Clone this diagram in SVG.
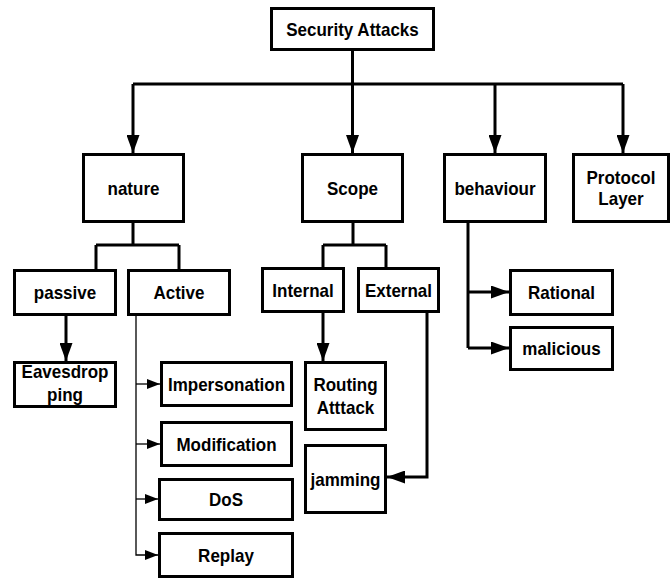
<svg xmlns="http://www.w3.org/2000/svg" width="671" height="578" viewBox="0 0 671 578">
<style>
.box{fill:#fff;stroke:#000;stroke-width:3}
.t{font-family:"Liberation Sans",Arial,sans-serif;font-weight:bold;font-size:17px;text-anchor:middle;fill:#000;transform-box:fill-box;transform-origin:center;transform:scaleY(1.1)}
.c{fill:none;stroke:#000;stroke-width:3}
.thin{fill:none;stroke:#000;stroke-width:1.3}
</style>
<defs>
<marker id="big" markerUnits="userSpaceOnUse" markerWidth="19" markerHeight="13" refX="18" refY="6.5" orient="auto">
<path d="M0,0 L18,6.5 L0,13 Z" fill="#000"/>
</marker>
<marker id="small" markerUnits="userSpaceOnUse" markerWidth="14" markerHeight="10" refX="13" refY="5" orient="auto">
<path d="M0,0 L13,5 L0,10 Z" fill="#000"/>
</marker>
</defs>
<g id="connectors">
<path class="c" d="M352.5,51 V84 M133,84 H623"/>
<path class="c" d="M133,84 V153" marker-end="url(#big)"/>
<path class="c" d="M352.5,84 V153" marker-end="url(#big)"/>
<path class="c" d="M495,84 V153" marker-end="url(#big)"/>
<path class="c" d="M623,84 V153" marker-end="url(#big)"/>
<path class="c" d="M133,223 V245 M96,245 H179 M96,245 V269 M179,245 V269"/>
<path class="c" d="M353,223 V245 M323,245 H386 M323,245 V267 M386,245 V267"/>
<path class="c" d="M66,316 V361" marker-end="url(#big)"/>
<path class="c" d="M323,313 V361" marker-end="url(#big)"/>
<path class="c" d="M427,313 V477 H387" marker-end="url(#big)"/>
<path class="c" d="M468,223 V348"/>
<path class="c" d="M468,292 H509" marker-end="url(#big)"/>
<path class="c" d="M468,348 H509" marker-end="url(#big)"/>
<path class="thin" d="M136,316 V555 H158" marker-end="url(#small)"/>
<path class="thin" d="M136,384 H160" marker-end="url(#small)"/>
<path class="thin" d="M136,444 H160" marker-end="url(#small)"/>
<path class="thin" d="M136,499 H158" marker-end="url(#small)"/>
</g>
<g id="security-attacks"><rect class="box" x="271.5" y="8.5" width="162" height="41"/><text class="t" x="352.5" y="35">Security Attacks</text></g>
<g id="nature"><rect class="box" x="83.5" y="154.5" width="100" height="67"/><text class="t" x="133.5" y="194">nature</text></g>
<g id="scope"><rect class="box" x="302.5" y="154.5" width="100" height="67"/><text class="t" x="352.5" y="194">Scope</text></g>
<g id="behaviour"><rect class="box" x="444.5" y="154.5" width="101" height="67"/><text class="t" x="495" y="194">behaviour</text></g>
<g id="protocol-layer"><rect class="box" x="573.5" y="154.5" width="95" height="67"/><text class="t" x="621" y="183">Protocol</text><text class="t" x="621" y="204">Layer</text></g>
<g id="passive"><rect class="box" x="14.5" y="270.5" width="101" height="44"/><text class="t" x="65" y="298">passive</text></g>
<g id="active"><rect class="box" x="128.5" y="270.5" width="101" height="44"/><text class="t" x="179" y="298">Active</text></g>
<g id="internal"><rect class="box" x="262.5" y="268.5" width="81" height="43"/><text class="t" x="303" y="296">Internal</text></g>
<g id="external"><rect class="box" x="358.5" y="268.5" width="80" height="43"/><text class="t" x="398.5" y="296">External</text></g>
<g id="rational"><rect class="box" x="510.5" y="270.5" width="102" height="44"/><text class="t" x="561.5" y="298">Rational</text></g>
<g id="malicious"><rect class="box" x="510.5" y="327.5" width="102" height="42"/><text class="t" x="561.5" y="354">malicious</text></g>
<g id="eavesdropping"><rect class="box" x="14.5" y="362.5" width="101" height="44"/><text class="t" x="65" y="377">Eavesdrop</text><text class="t" x="65" y="400">ping</text></g>
<g id="impersonation"><rect class="box" x="161.5" y="362.5" width="130" height="43"/><text class="t" x="226.5" y="390">Impersonation</text></g>
<g id="modification"><rect class="box" x="161.5" y="422.5" width="130" height="43"/><text class="t" x="226.5" y="450">Modification</text></g>
<g id="dos"><rect class="box" x="159.5" y="479.5" width="133" height="40"/><text class="t" x="226" y="505">DoS</text></g>
<g id="replay"><rect class="box" x="159.5" y="533.5" width="133" height="43"/><text class="t" x="226" y="561">Replay</text></g>
<g id="routing-attack"><rect class="box" x="305.5" y="362.5" width="80" height="67"/><text class="t" x="345.5" y="390">Routing</text><text class="t" x="345.5" y="413">Atttack</text></g>
<g id="jamming"><rect class="box" x="305.5" y="445.5" width="80" height="67"/><text class="t" x="345.5" y="485">jamming</text></g>
</svg>
